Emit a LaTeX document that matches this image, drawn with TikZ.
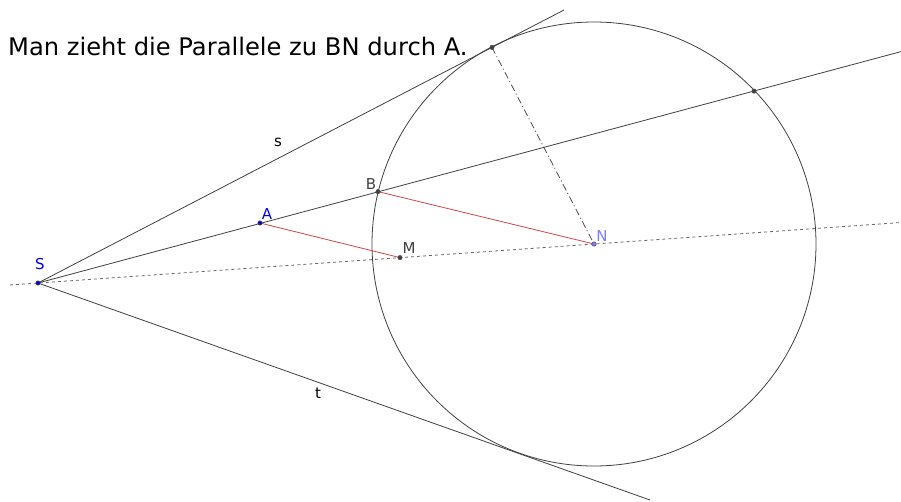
\documentclass[tikz,border=0pt]{standalone}
\usepackage{fontspec}
\setmainfont{DejaVu Sans}
\definecolor{ptblue}{RGB}{0,0,230}
\definecolor{ptlight}{RGB}{125,125,255}
\definecolor{ptgray}{RGB}{64,64,64}
\definecolor{parred}{RGB}{210,70,70}

\begin{document}
\begin{tikzpicture}[x=1pt,y=-1pt,
  line/.style={line width=0.8pt,draw=black!75},
  axis/.style={line width=0.8pt,draw=black!60,dash pattern=on 3pt off 3pt},
  radius line/.style={line width=0.8pt,draw=black!70,dash pattern=on 7pt off 3pt on 1pt off 3pt},
  parallel/.style={line width=0.8pt,draw=parred},
  dot/.style={circle,fill=#1,draw=black!70,line width=0.5pt,inner sep=0pt,minimum size=4.4pt},
  lbl/.style={font=\fontsize{15}{17}\selectfont,text=#1,inner sep=0pt}]
\useasboundingbox (0,0) rectangle (901,501);
\coordinate (S) at (38,283);
\coordinate (A) at (260,223);
\coordinate (B) at (378,191.6);
\coordinate (M) at (400,257.6);
\coordinate (N) at (594,244);
\coordinate (T) at (492,47.4);
\coordinate (D) at (754,91.1);
\coordinate (s end) at (564,10);
\coordinate (t end) at (650,500);
\coordinate (g end) at (901,51.6);
\coordinate (h start) at (10,285);
\coordinate (h end) at (901,222.5);
\draw[line] (N) circle (222pt);
\draw[line] (S) -- (s end);
\draw[line] (S) -- (t end);
\draw[line] (S) -- (g end);
\draw[axis] (h start) -- (h end);
\draw[radius line] (T) -- (N);
\draw[parallel] (A) -- (M);
\draw[parallel] (B) -- (N);
\node[dot=ptblue] (S dot) at (S) {};
\node[dot=ptblue] (A dot) at (A) {};
\node[dot=ptgray] (B dot) at (B) {};
\node[dot=ptgray] (M dot) at (M) {};
\node[dot=ptlight] (N dot) at (N) {};
\node[dot=ptgray] (T dot) at (T) {};
\node[dot=ptgray] (D dot) at (D) {};
\node[lbl=ptblue] (S label) at (40,264) {S};
\node[lbl=ptblue] (A label) at (267,214) {A};
\node[lbl=ptgray] (B label) at (371,184) {B};
\node[lbl=ptgray] (M label) at (409,248) {M};
\node[lbl=ptlight] (N label) at (602,236) {N};
\node[lbl=black] (s label) at (278,142) {s};
\node[lbl=black] (t label) at (318,393) {t};
\node[anchor=base west,inner sep=0pt,font=\fontsize{24.2}{29}\selectfont] (title) at (8,55) {Man zieht die Parallele zu BN durch A.};
\end{tikzpicture}
\end{document}
